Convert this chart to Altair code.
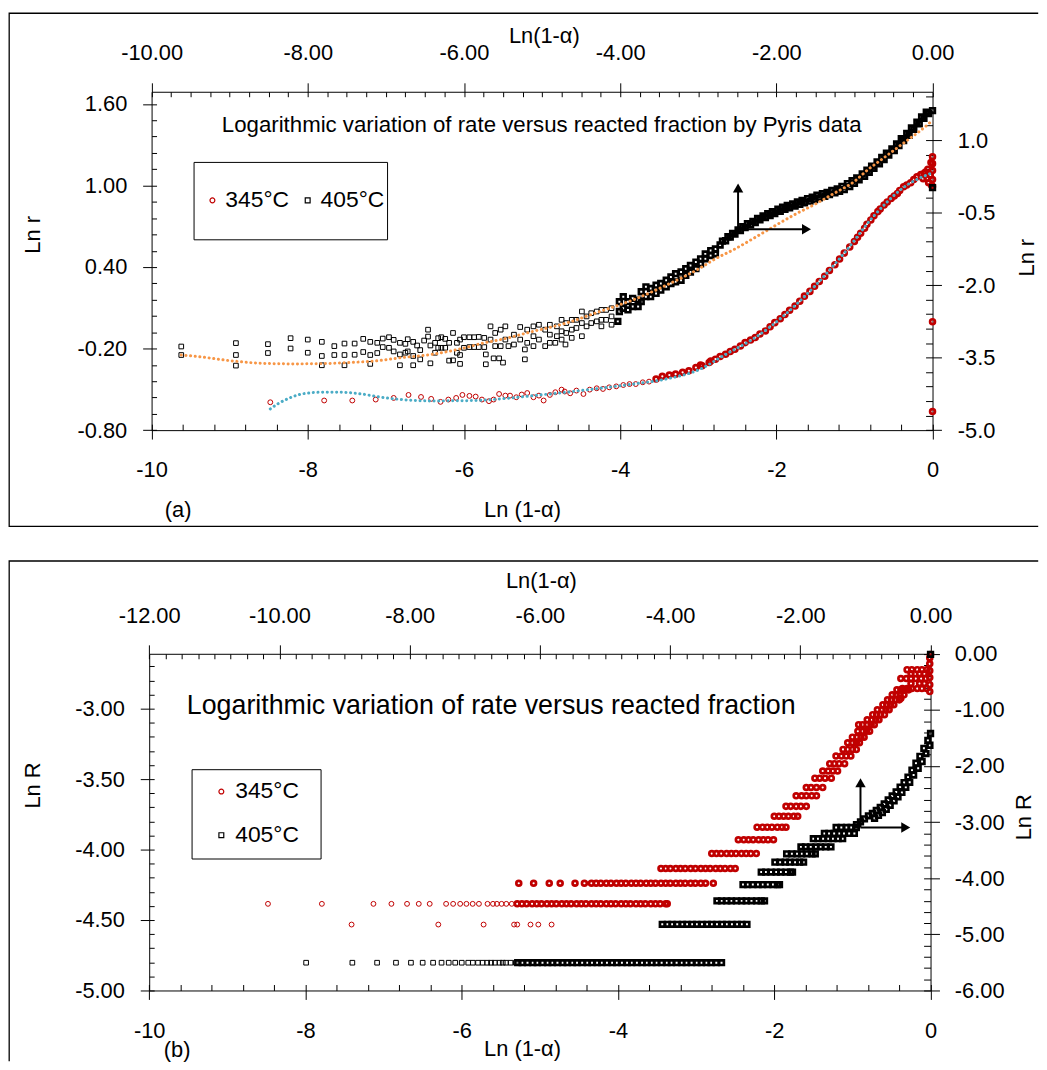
import altair as alt
import pandas as pd

FONT = "Liberation Sans"
MINUS = "\u2212"

series_names = ["345°C", "405°C"]
series_colors = ["#C00000", "#000000"]
series_shapes = ["circle", "square"]

# ---------------- tick values ----------------
a_bottom_major = [-10, -8, -6, -4, -2, 0]
a_top_major = [-10, -8, -6, -4, -2, 0]
a_left_major = [-0.8, -0.2, 0.4, 1.0, 1.6]
a_right_major = [-5.0, -3.5, -2.0, -0.5, 1.0]
b_bottom_major = [-10, -8, -6, -4, -2, 0]
b_top_major = [-12, -10, -8, -6, -4, -2, 0]
b_left_major = [-5.0, -4.5, -4.0, -3.5, -3.0]
b_right_major = [-6, -5, -4, -3, -2, -1, 0]


def minor(lo, hi, step):
    n = int(round((hi - lo) / step))
    return [round(lo + i * step, 4) for i in range(n + 1)]


a_bottom_minor = minor(-10, 0, 0.4)
a_top_minor = minor(-10, 0, 0.25)
a_left_minor = minor(-0.8, 1.6, 0.12)
a_right_minor = minor(-5, 1.9, 0.3)
b_bottom_minor = minor(-10, 0, 0.4)
b_top_minor = minor(-12, 0, 0.25)
b_left_minor = minor(-5, -2.6, 0.1)
b_right_minor = minor(-6, 0, 0.2)

# ---------------- panel (a) data ----------------
# 345°C : Ln(1-a) (bottom axis) vs Ln r (left axis)
red_a = [
    (-8.48, -0.595), (-7.79, -0.582), (-7.43, -0.582), (-7.13, -0.575), (-6.90, -0.563), (-6.71, -0.541),
    (-6.55, -0.556), (-6.42, -0.570), (-6.30, -0.592), (-6.20, -0.575), (-6.10, -0.563), (-6.02, -0.541),
    (-5.93, -0.548), (-5.85, -0.553), (-5.77, -0.575), (-5.68, -0.587), (-5.62, -0.575), (-5.55, -0.534),
    (-5.47, -0.546), (-5.41, -0.546), (-5.33, -0.558), (-5.26, -0.538), (-5.19, -0.527), (-5.11, -0.558),
    (-5.04, -0.546), (-4.98, -0.582), (-4.90, -0.541), (-4.83, -0.521), (-4.75, -0.502), (-4.71, -0.516),
    (-4.64, -0.529), (-4.56, -0.509), (-4.47, -0.534), (-4.39, -0.502), (-4.30, -0.492), (-4.22, -0.497),
    (-4.14, -0.485), (-4.05, -0.478), (-3.96, -0.468), (-3.88, -0.461), (-3.80, -0.461), (-3.71, -0.448),
    (-3.63, -0.443), (-3.54, -0.424), (-3.46, -0.404), (-3.37, -0.395), (-3.29, -0.388), (-3.20, -0.375),
    (-3.12, -0.363), (-3.03, -0.339), (-2.97, -0.320), (-2.95, -0.326), (-2.86, -0.302), (-2.84, -0.291),
    (-2.78, -0.278), (-2.72, -0.258), (-2.65, -0.241), (-2.59, -0.221), (-2.53, -0.205), (-2.46, -0.181),
    (-2.40, -0.156), (-2.33, -0.137), (-2.27, -0.119), (-2.21, -0.093), (-2.14, -0.070), (-2.08, -0.039),
    (-2.02, -0.009), (-1.95, 0.020), (-1.89, 0.051), (-1.83, 0.082), (-1.76, 0.113), (-1.70, 0.148),
    (-1.64, 0.186), (-1.57, 0.221), (-1.51, 0.259), (-1.45, 0.294), (-1.38, 0.332), (-1.32, 0.375),
    (-1.25, 0.417), (-1.19, 0.459), (-1.13, 0.503), (-1.06, 0.547), (-1.00, 0.588), (-0.96, 0.620),
    (-0.92, 0.649), (-0.87, 0.686), (-0.84, 0.715), (-0.79, 0.746), (-0.75, 0.777), (-0.70, 0.808),
    (-0.67, 0.828), (-0.62, 0.856), (-0.58, 0.879), (-0.53, 0.905), (-0.49, 0.923), (-0.45, 0.942),
    (-0.42, 0.964), (-0.37, 0.991), (-0.33, 1.004), (-0.28, 1.020), (-0.24, 1.044), (-0.20, 1.064),
    (-0.15, 1.081), (-0.11, 1.088), (-0.07, 1.051), (-0.03, 1.076), (-0.12, 1.05), (-0.09, 1.10),
    (-0.06, 1.12), (-0.05, 1.02), (-0.02, 1.17), (-0.01, 1.00), (0.0, 1.212), (0.0, 1.161),
    (0.0, 1.110), (0.0, 1.044), (0.0, 0.993), (0.0, -0.002), (0.0, -0.663),
]
blue_a = [
    (-8.48, -0.644), (-8.37, -0.602), (-8.24, -0.565), (-8.12, -0.540), (-7.99, -0.527), (-7.80, -0.521),
    (-7.59, -0.521), (-7.31, -0.534), (-7.06, -0.558), (-6.80, -0.575), (-6.42, -0.585), (-5.85, -0.582),
    (-5.53, -0.570), (-5.11, -0.546), (-4.69, -0.521), (-4.26, -0.492), (-3.84, -0.461), (-3.41, -0.424),
    (-2.99, -0.355), (-2.65, -0.243), (-2.27, -0.119), (-1.89, 0.049), (-1.51, 0.258), (-1.13, 0.503),
    (-0.75, 0.777), (-0.37, 0.986), (0.0, 1.095),
]
# 405°C : Ln(1-a) (top axis) vs Ln r (right axis)
black_a = [
    (-9.62, -3.270), (-9.62, -3.446), (-8.92, -3.200), (-8.92, -3.446), (-8.92, -3.665),
    (-8.51, -3.221), (-8.51, -3.405), (-8.22, -3.098), (-8.22, -3.311), (-8.00, -3.127), (-8.00, -3.399),
    (-7.82, -3.174), (-7.82, -3.466), (-7.82, -3.658), (-7.66, -3.262), (-7.66, -3.446),
    (-7.53, -3.209), (-7.53, -3.446), (-7.53, -3.658), (-7.40, -3.209), (-7.40, -3.440),
    (-7.29, -3.112), (-7.29, -3.384), (-7.20, -3.174), (-7.20, -3.446), (-7.20, -3.630),
    (-7.11, -3.194), (-7.11, -3.405), (-7.04, -3.106), (-7.04, -3.282), (-6.96, -3.078), (-6.96, -3.297),
    (-6.90, -3.133), (-6.90, -3.372), (-6.82, -3.194), (-6.82, -3.434), (-6.82, -3.658),
    (-6.75, -3.215), (-6.75, -3.399), (-6.72, -3.119), (-6.72, -3.372),
    (-6.65, -3.174), (-6.65, -3.466), (-6.65, -3.658), (-6.60, -3.249), (-6.56, -3.344), (-6.56, -3.536),
    (-6.51, -3.147), (-6.46, -2.922), (-6.46, -3.065), (-6.43, -3.249), (-6.43, -3.618),
    (-6.37, -3.194), (-6.37, -3.399), (-6.33, -3.098), (-6.33, -3.297), (-6.29, -3.078), (-6.29, -3.297),
    (-6.24, -3.112), (-6.24, -3.297), (-6.19, -3.194), (-6.19, -3.562), (-6.14, -2.990), (-6.14, -3.556),
    (-6.09, -3.194), (-6.09, -3.399), (-6.05, -3.127), (-6.05, -3.446), (-6.05, -3.630),
    (-6.00, -3.078), (-6.00, -3.297), (-5.93, -3.078), (-5.93, -3.282), (-5.87, -3.078), (-5.87, -3.282),
    (-5.81, -3.072), (-5.81, -3.282), (-5.74, -3.092), (-5.74, -3.282), (-5.72, -3.434), (-5.72, -3.638),
    (-5.66, -2.853), (-5.66, -3.127), (-5.62, -3.515), (-5.60, -2.990), (-5.60, -3.262), (-5.55, -3.515),
    (-5.53, -2.922), (-5.53, -3.262), (-5.50, -3.603), (-5.47, -2.853), (-5.47, -3.127), (-5.43, -3.262),
    (-5.36, -3.025), (-5.36, -3.229), (-5.28, -2.867), (-5.28, -3.127), (-5.22, -3.331), (-5.22, -3.536),
    (-5.19, -2.922), (-5.19, -3.194), (-5.11, -2.853), (-5.11, -3.057), (-5.11, -3.262),
    (-5.04, -2.820), (-5.04, -3.127), (-4.96, -2.922), (-4.96, -3.262),
    (-4.90, -2.820), (-4.90, -3.025), (-4.90, -3.194), (-4.83, -3.194), (-4.81, -2.853), (-4.81, -3.057),
    (-4.75, -2.718), (-4.75, -2.955), (-4.75, -3.127), (-4.70, -3.229), (-4.69, -2.785), (-4.69, -2.990),
    (-4.62, -2.718), (-4.62, -2.922), (-4.62, -3.092), (-4.56, -2.718), (-4.56, -2.887),
    (-4.49, -2.546), (-4.49, -2.785), (-4.49, -3.057), (-4.43, -2.648), (-4.43, -2.853),
    (-4.37, -2.581), (-4.37, -2.785), (-4.30, -2.546), (-4.30, -2.750),
    (-4.24, -2.513), (-4.24, -2.718), (-4.24, -2.853), (-4.18, -2.513), (-4.18, -2.718),
    (-4.11, -2.478), (-4.11, -2.648), (-4.11, -2.820), (-4.03, -2.750), (-4.01, -2.342), (-4.01, -2.546),
    (-3.96, -2.239), (-3.96, -2.478), (-3.90, -2.342), (-3.90, -2.513), (-3.84, -2.274), (-3.84, -2.444),
    (-3.77, -2.309), (-3.77, -2.444), (-3.73, -2.137), (-3.73, -2.342), (-3.67, -2.035), (-3.67, -2.239),
    (-3.61, -2.070), (-3.61, -2.239), (-3.54, -2.002), (-3.54, -2.172), (-3.48, -1.967), (-3.48, -2.104),
    (-3.41, -1.900), (-3.41, -2.035), (-3.35, -1.830), (-3.35, -1.967), (-3.29, -1.763), (-3.29, -1.933),
    (-3.22, -1.728), (-3.22, -1.900), (-3.16, -1.660), (-3.16, -1.798), (-3.10, -1.593), (-3.10, -1.728),
    (-3.03, -1.524), (-3.03, -1.660), (-2.97, -1.456), (-2.97, -1.558), (-2.91, -1.354), (-2.91, -1.456),
    (-2.84, -1.286), (-2.84, -1.389), (-2.78, -1.252), (-2.78, -1.354),
    (-2.72, -1.170), (-2.65, -1.082), (-2.59, -1.006), (-2.53, -0.945), (-2.46, -0.873), (-2.40, -0.808),
    (-2.33, -0.755), (-2.27, -0.706), (-2.21, -0.652), (-2.14, -0.603), (-2.08, -0.562), (-2.02, -0.521),
    (-1.95, -0.474), (-1.89, -0.434), (-1.83, -0.399), (-1.76, -0.366), (-1.70, -0.331), (-1.64, -0.296),
    (-1.57, -0.264), (-1.51, -0.229), (-1.45, -0.194), (-1.38, -0.161), (-1.32, -0.127), (-1.25, -0.092),
    (-1.19, -0.059), (-1.13, -0.024), (-1.06, 0.037), (-1.00, 0.108), (-0.94, 0.180), (-0.87, 0.252),
    (-0.81, 0.333), (-0.75, 0.415), (-0.68, 0.507), (-0.62, 0.599), (-0.56, 0.691), (-0.49, 0.783),
    (-0.43, 0.886), (-0.37, 0.988), (-0.30, 1.100), (-0.24, 1.223), (-0.17, 1.335), (-0.11, 1.448),
    (-0.05, 1.550), (0.0, 1.611), (0.0, 0.016),
    (-2.69, -1.09), (-2.62, -1.00), (-2.56, -0.93), (-2.49, -0.86), (-2.43, -0.79), (-2.37, -0.73),
    (-2.30, -0.68), (-2.24, -0.62), (-2.17, -0.57), (-2.11, -0.52), (-2.05, -0.48), (-1.98, -0.43),
    (-1.92, -0.39), (-1.86, -0.35), (-1.79, -0.32), (-1.73, -0.28), (-1.67, -0.25), (-1.60, -0.21),
    (-1.54, -0.18), (-1.48, -0.14), (-1.41, -0.11), (-1.35, -0.08), (-1.29, -0.04), (-1.22, -0.01),
    (-1.16, 0.04), (-1.09, 0.10), (-1.03, 0.16), (-0.97, 0.22), (-0.90, 0.30), (-0.84, 0.38),
    (-0.78, 0.46), (-0.71, 0.55), (-0.65, 0.64), (-0.59, 0.73), (-0.52, 0.82), (-0.46, 0.92),
    (-0.40, 1.03), (-0.33, 1.14), (-0.27, 1.25), (-0.20, 1.37), (-0.14, 1.48), (-0.08, 1.58),
]
orange_a = [
    (-9.62, -3.446), (-9.39, -3.481), (-8.96, -3.569), (-8.58, -3.618), (-8.20, -3.630), (-7.82, -3.624),
    (-7.48, -3.603), (-7.14, -3.569), (-6.80, -3.501), (-6.42, -3.434), (-6.04, -3.317), (-5.74, -3.194),
    (-5.53, -3.127), (-5.11, -2.955), (-4.69, -2.785), (-4.26, -2.546), (-3.84, -2.309), (-3.41, -2.002),
    (-2.99, -1.660), (-2.78, -1.456), (-2.53, -1.252), (-2.27, -1.012), (-2.02, -0.775), (-1.76, -0.536),
    (-1.51, -0.331), (-1.25, -0.092), (-1.00, 0.145), (-0.83, 0.385), (-0.66, 0.589), (-0.49, 0.794),
    (-0.32, 0.998), (-0.15, 1.202), (0.0, 1.407),
]
# arrows (a): origin and arrow-head positions on the 405°C axes
arrow_a_origin = (-2.49, -0.843)
arrow_a_up = (-2.49, 0.010)
arrow_a_right = (-1.614, -0.843)

# ---------------- panel (b) data ----------------
# 345°C : Ln(1-a) (bottom axis) vs Ln R (left axis); rows of equal Ln R
red_b_rows = [
    (-4.532, [-7.41, -6.30, -5.72, -5.33, -5.29, -5.12, -5.02, -4.85]),
    (-4.385, [-8.48, -7.79, -7.13, -6.90, -6.70, -6.55, -6.41, -6.20, -6.11, -6.02, -5.94, -5.86, -5.78,
              -5.67, -5.60, -5.55, -5.49, -5.43, -5.36, -5.29, -5.23, -5.17, -5.10, -5.04, -4.98, -4.91,
              -4.85, -4.79, -4.72, -4.66, -4.60, -4.53, -4.47, -4.41, -4.34, -4.28, -4.22, -4.15, -4.09,
              -4.03, -3.96, -3.90, -3.84, -3.77, -3.71, -3.65, -3.58, -3.52, -3.46, -3.39, -3.37]),
    (-4.239, [-5.27, -5.08, -4.88, -4.74, -4.55, -4.43, -4.34, -4.28, -4.22, -4.15, -4.09, -4.02, -3.96,
              -3.90, -3.83, -3.77, -3.71, -3.64, -3.58, -3.52, -3.45, -3.39, -3.33, -3.26, -3.20, -3.14,
              -3.07, -3.01, -2.94, -2.88, -2.78]),
    (-4.134, [-3.45, -3.39, -3.33, -3.26, -3.20, -3.14, -3.07, -3.01, -2.94, -2.88, -2.82, -2.75, -2.69,
              -2.63, -2.56, -2.50]),
    (-4.028, [-2.80, -2.74, -2.68, -2.61, -2.55, -2.49, -2.42, -2.36, -2.30, -2.23]),
    (-3.930, [-2.46, -2.39, -2.33, -2.27, -2.20, -2.14, -2.08, -2.01]),
    (-3.841, [-2.22, -2.15, -2.09, -2.03, -1.96, -1.90, -1.85]),
    (-3.763, [-2.00, -1.94, -1.88, -1.82, -1.75, -1.70]),
    (-3.693, [-1.85, -1.79, -1.72, -1.66, -1.59]),
    (-3.618, [-1.72, -1.65, -1.59, -1.52, -1.46]),
    (-3.559, [-1.59, -1.53, -1.46, -1.38]),
    (-3.493, [-1.48, -1.42, -1.35, -1.27]),
    (-3.442, [-1.38, -1.31, -1.25, -1.19]),
    (-3.390, [-1.29, -1.23, -1.17, -1.10]),
    (-3.336, [-1.21, -1.14, -1.08, -1.02]),
    (-3.289, [-1.12, -1.06, -1.00, -0.95]),
    (-3.242, [-1.06, -1.00, -0.95, -0.91]),
    (-3.202, [-1.00, -0.94, -0.89, -0.85]),
    (-3.160, [-0.93, -0.87, -0.82, -0.78]),
    (-3.113, [-0.92, -0.87, -0.81, -0.76, -0.72]),
    (-3.078, [-0.81, -0.75, -0.70, -0.66]),
    (-3.042, [-0.74, -0.69, -0.64, -0.59]),
    (-3.007, [-0.68, -0.62, -0.57, -0.53]),
    (-2.972, [-0.61, -0.56, -0.51, -0.47]),
    (-2.937, [-0.55, -0.50, -0.45, -0.40]),
    (-2.925, [-0.38]),
    (-2.901, [-0.49, -0.44, -0.39, -0.34]),
    (-2.866, [-0.43, -0.38, -0.33, -0.28]),
    (-2.857, [-0.36, -0.30, -0.24, -0.17, -0.11, -0.05]),
    (-2.821, [-0.25, -0.14, -0.08]),
    (-2.786, [-0.38, -0.31, -0.25, -0.19, -0.12, -0.06]),
    (-2.751, [-0.25, -0.14, -0.08]),
    (-2.723, [-0.30, -0.24, -0.17, -0.11, -0.05]),
]
red_b_extra = [(-0.01, -2.878), (-0.01, -2.829), (-0.01, -2.779), (-0.01, -2.730), (-0.01, -2.681),
               (-0.01, -2.639), (0.0, -2.615)]
# 405°C : Ln(1-a) (top axis) vs Ln R (right axis)
black_b_rows = [
    (-5.505, [-9.59, -8.88, -8.50, -8.21, -7.98, -7.80, -7.64, -7.51, -7.40, -7.30, -7.20, -7.10, -7.03,
              -6.95, -6.88, -6.81, -6.75, -6.69, -6.62, -6.57, -6.52, -6.45, -6.37, -6.34, -6.27, -6.19,
              -6.11, -6.04, -5.96, -5.88, -5.81, -5.73, -5.65, -5.58, -5.50, -5.43, -5.35, -5.27, -5.20,
              -5.12, -5.05, -4.97, -4.89, -4.82, -4.74, -4.66, -4.59, -4.51, -4.43, -4.36, -4.28, -4.21,
              -4.13, -4.05, -3.98, -3.90, -3.82, -3.75, -3.67, -3.59, -3.52, -3.44, -3.37, -3.29, -3.21]),
    (-4.821, [-4.12, -4.04, -3.97, -3.89, -3.81, -3.74, -3.66, -3.59, -3.51, -3.43, -3.36, -3.28, -3.20,
              -3.13, -3.05, -2.97, -2.90, -2.82]),
    (-4.403, [-3.28, -3.21, -3.13, -3.06, -2.98, -2.90, -2.83, -2.75, -2.67, -2.60, -2.55]),
    (-4.113, [-2.88, -2.81, -2.73, -2.65, -2.58, -2.50, -2.42, -2.35, -2.32]),
    (-3.890, [-2.60, -2.53, -2.45, -2.37, -2.30, -2.22, -2.15, -2.12]),
    (-3.714, [-2.39, -2.31, -2.23, -2.16, -2.08, -2.01, -1.95]),
    (-3.565, [-2.21, -2.13, -2.05, -1.98, -1.90, -1.82, -1.77]),
    (-3.441, [-1.99, -1.92, -1.84, -1.76, -1.69, -1.61, -1.53]),
    (-3.295, [-1.80, -1.73, -1.65, -1.57, -1.50, -1.42, -1.35]),
    (-3.201, [-1.63, -1.56, -1.48, -1.40, -1.33, -1.25, -1.17]),
    (-3.095, [-1.45, -1.37, -1.29, -1.22, -1.14]),
]
black_b_extra = [
    (-1.137, -3.047), (-1.076, -2.994), (-1.015, -2.941), (-0.954, -2.888), (-0.893, -2.844),
    (-0.833, -2.791), (-0.772, -2.737), (-0.711, -2.676), (-0.650, -2.605), (-0.589, -2.534),
    (-0.528, -2.463), (-0.467, -2.375), (-0.406, -2.295), (-0.346, -2.198), (-0.285, -2.074),
    (-0.224, -1.951), (-0.163, -1.827), (-0.102, -1.685), (-0.041, -1.544), (0.0, -1.420),
    (-0.86, -2.93), (-0.80, -2.88), (-0.74, -2.83), (-0.68, -2.77), (-0.62, -2.70), (-0.56, -2.62),
    (-0.50, -2.55), (-0.44, -2.47), (-0.38, -2.38), (-0.32, -2.29), (-0.26, -2.16), (-0.19, -2.04),
    (-0.13, -1.92), (-0.07, -1.78), (-0.01, -1.63), (0.0, -0.01),
]
arrow_b_origin = (-1.076, -3.095)
arrow_b_up = (-1.076, -2.299)
arrow_b_right = (-0.381, -3.095)


# ---------------- helpers ----------------
def pairs_df(pairs, series=None):
    d = pd.DataFrame({"x": [p[0] for p in pairs], "y": [p[1] for p in pairs]})
    if series is not None:
        d["series"] = series
    return d


def rows_df(rows, extra, series):
    xs, ys = [], []
    for lvl, row in rows:
        for v in row:
            xs.append(v)
            ys.append(lvl)
    for p in extra:
        xs.append(p[0])
        ys.append(p[1])
    return pd.DataFrame({"x": xs, "y": ys, "series": series})


def lab(fmt):
    return f"replace(format(datum.value, '{fmt}'), '{MINUS}', '-')"


def axis(orient, offset, values, fmt=None, title=None, tx=0, ty=0, angle=0, tick=9, pad=16,
         labels=True, domain=True, fs=22, tfs=22, align="center"):
    kw = dict(orient=orient, offset=offset, values=values, tickSize=tick, grid=False,
              tickColor="black", tickWidth=1, domain=domain, labels=labels)
    if domain:
        kw.update(domainColor="black", domainWidth=1)
    if labels:
        kw.update(labelExpr=lab(fmt), labelFont=FONT, labelFontSize=fs, labelColor="black",
                  labelPadding=pad, labelOverlap=False, labelFlush=False)
    if title is None:
        kw["title"] = None
    else:
        kw.update(title=title, titleX=tx, titleY=ty, titleAngle=angle, titleAlign=align,
                  titleBaseline="middle", titleFont=FONT, titleFontSize=tfs,
                  titleFontWeight="normal", titleColor="black")
    return alt.Axis(**kw)


def sc(dom, rng):
    return alt.Scale(domain=dom, range=rng, nice=False, zero=False)


def color_enc(legend):
    return alt.Color("series:N", scale=alt.Scale(domain=series_names, range=series_colors), legend=legend)


def shape_enc(legend):
    return alt.Shape("series:N", scale=alt.Scale(domain=series_names, range=series_shapes), legend=legend)


def arrow_layers(origin, up, right, xs, ys):
    rules = pd.DataFrame({"x": [origin[0], origin[0]], "y": [origin[1], origin[1]],
                          "x2": [up[0], right[0]], "y2": [up[1], right[1]]})
    r = alt.Chart(rules).mark_rule(color="black", strokeWidth=2).encode(
        x=alt.X("x:Q", scale=xs, axis=None), y=alt.Y("y:Q", scale=ys, axis=None),
        x2="x2:Q", y2="y2:Q")
    hu = alt.Chart(pairs_df([up])).mark_point(shape="triangle-up", filled=True, size=110,
                                              color="black", opacity=1).encode(
        x=alt.X("x:Q", scale=xs, axis=None), y=alt.Y("y:Q", scale=ys, axis=None))
    hr = alt.Chart(pairs_df([right])).mark_point(shape="triangle-right", filled=True, size=110,
                                                 color="black", opacity=1).encode(
        x=alt.X("x:Q", scale=xs, axis=None), y=alt.Y("y:Q", scale=ys, axis=None))
    return [r, hu, hr]


DOT = dict(strokeDash=[0.1, 4.6], strokeCap="round", strokeWidth=3)
NOAX = dict(axis=None)
DENSE_W = 2.7

# ---------------- panel (a) ----------------
W = 1037
HA, LA, RA, TA, BA = 517, 143.7, 930.7, 79.3, 420.3
xa = sc([-10, 0], [LA, RA])
xta = sc([-10, 0], [LA, RA])
yla = sc([-0.8, 1.69], [BA, TA])
yra = sc([-5, 2], [BA, TA])
oL, oR, oT, oB = -LA, -(W - RA), -TA, -(HA - BA)

leg_a = alt.Legend(orient="none", legendX=186, legendY=150, direction="horizontal", title=" ",
                   titleFontSize=17, titlePadding=8, titleFont=FONT,
                   strokeColor="black", fillColor="white", padding=2, labelFont=FONT,
                   labelFontSize=23, labelColor="black", labelOffset=1.5, columnPadding=1,
                   symbolOffset=5.5, symbolSize=24, symbolStrokeWidth=1.2,
                   labelExpr="[datum.label, '']")

df_red_a = pairs_df(red_a, "345°C")
df_black_a = pairs_df(black_a, "405°C")
dense_red_a = df_red_a[df_red_a.x >= -3.6]
dense_black_a = df_black_a[df_black_a.x >= -4.05]

a_red = alt.Chart(df_red_a).mark_point(filled=False, size=24, strokeWidth=1, opacity=1).encode(
    x=alt.X("x:Q", scale=xa, axis=axis("bottom", oB, a_bottom_major, "d", "Ln (1-α)", 517, 79.7, pad=21)),
    y=alt.Y("y:Q", scale=yla, axis=axis("left", oL, a_left_major, ".2f", "Ln r", -119.7, 223, angle=270)),
    color=color_enc(leg_a), shape=shape_enc(leg_a))
a_red_d = alt.Chart(dense_red_a).mark_point(filled=False, size=24, strokeWidth=DENSE_W, opacity=1,
                                            shape="circle", color="#C00000").encode(
    x=alt.X("x:Q", scale=xa, axis=axis("bottom", oB - 6, a_bottom_minor, tick=6, labels=False,
                                       domain=False, title="(a)", tx=170, ty=85.7)),
    y=alt.Y("y:Q", scale=yla, axis=axis("left", oL - 5, a_left_minor, tick=5, labels=False, domain=False)))
a_blue = alt.Chart(pairs_df(blue_a)).mark_line(color="#4BACC6", interpolate="monotone", **DOT).encode(
    x=alt.X("x:Q", scale=xa, **NOAX), y=alt.Y("y:Q", scale=yla, **NOAX))
a_black = alt.Chart(df_black_a).mark_point(filled=False, size=22, strokeWidth=1, opacity=1).encode(
    x=alt.X("x:Q", scale=xta, axis=axis("top", oT, a_top_major, ".2f", "Ln(1-α)", 539, -57, pad=18)),
    y=alt.Y("y:Q", scale=yra, axis=axis("right", oR, a_right_major, ".1f", "Ln r", 94.3, 246, angle=270)),
    color=color_enc(leg_a), shape=shape_enc(leg_a))
a_black_d = alt.Chart(dense_black_a).mark_point(filled=False, size=22, strokeWidth=DENSE_W, opacity=1,
                                                shape="square", color="black").encode(
    x=alt.X("x:Q", scale=xta, axis=axis("top", oT - 5, a_top_minor, tick=5, labels=False, domain=False,
                                        title="Logarithmic variation of rate versus reacted fraction by Pyris data",
                                        tx=214, ty=27.7, tfs=22.4, align="left")),
    y=alt.Y("y:Q", scale=yra, axis=axis("right", oR - 7, a_right_minor, tick=7, labels=False, domain=False)))
a_orange = alt.Chart(pairs_df(orange_a)).mark_line(color="#F79646", interpolate="monotone", **DOT).encode(
    x=alt.X("x:Q", scale=xta, **NOAX), y=alt.Y("y:Q", scale=yra, **NOAX))

# outer frame: left, top and bottom edges (the right edge lies beyond the picture)
panel_a = alt.layer(a_red, a_red_d, a_blue, a_black, a_black_d, a_orange,
                    *arrow_layers(arrow_a_origin, arrow_a_up, arrow_a_right, xta, yra)).resolve_scale(
    x="independent", y="independent").properties(
    width=W, height=HA,
    view=alt.ViewBackground(stroke="black", strokeWidth=1.3, fill="white",
                            strokeDash=[W, HA, W + HA + 20]))

# ---------------- panel (b) ----------------
HB, LB, RB, TB, BB = 504, 141.3, 928.7, 93.7, 433
xb = sc([-10, 0], [LB, RB])
xtb = sc([-12, 0], [LB, RB])
ylb = sc([-5, -2.61], [BB, TB])
yrb = sc([-6, 0], [BB, TB])
pL, pR, pT, pB = -LB, -(W - RB), -TB, -(HB - BB)

leg_b = alt.Legend(orient="none", legendX=184, legendY=210, direction="vertical", title=" ",
                   titleOrient="right", titleFontSize=10, titlePadding=11, titleFont=FONT,
                   strokeColor="black", fillColor="white", padding=11, labelFont=FONT,
                   labelFontSize=23, labelColor="black", labelOffset=2.5, rowPadding=20,
                   symbolOffset=7.5, symbolSize=24, symbolStrokeWidth=1.2)

df_red_b = rows_df(red_b_rows, red_b_extra, "345°C")
df_black_b = rows_df(black_b_rows, black_b_extra, "405°C")
dense_red_b = df_red_b[(df_red_b.x >= -5.30) & (df_red_b.y >= -4.40)]
dense_black_b = df_black_b[df_black_b.x >= -6.35]

b_red = alt.Chart(df_red_b).mark_point(filled=False, size=24, strokeWidth=1, opacity=1).encode(
    x=alt.X("x:Q", scale=xb, axis=axis("bottom", pB, b_bottom_major, "d", "Ln (1-α)", 517, 59, pad=21)),
    y=alt.Y("y:Q", scale=ylb, axis=axis("left", pL, b_left_major, ".2f", "Ln R", -117.3, 226, angle=270)),
    color=color_enc(leg_b), shape=shape_enc(leg_b))
b_red_d = alt.Chart(dense_red_b).mark_point(filled=False, size=24, strokeWidth=DENSE_W, opacity=1,
                                            shape="circle", color="#C00000").encode(
    x=alt.X("x:Q", scale=xb, axis=axis("bottom", pB - 6, b_bottom_minor, tick=6, labels=False,
                                       domain=False, title="(b)", tx=169, ty=66)),
    y=alt.Y("y:Q", scale=ylb, axis=axis("left", pL - 5, b_left_minor, tick=5, labels=False, domain=False)))
b_black = alt.Chart(df_black_b).mark_point(filled=False, size=22, strokeWidth=1, opacity=1).encode(
    x=alt.X("x:Q", scale=xtb, axis=axis("top", pT, b_top_major, ".2f", "Ln(1-α)", 536, -73.7, pad=18)),
    y=alt.Y("y:Q", scale=yrb, axis=axis("right", pR, b_right_major, ".2f", "Ln R", 93.3, 258, angle=270, pad=15)),
    color=color_enc(leg_b), shape=shape_enc(leg_b))
b_black_d = alt.Chart(dense_black_b).mark_point(filled=False, size=22, strokeWidth=DENSE_W, opacity=1,
                                                shape="square", color="black").encode(
    x=alt.X("x:Q", scale=xtb, axis=axis("top", pT - 5, b_top_minor, tick=5, labels=False, domain=False,
                                        title="Logarithmic variation of rate versus reacted fraction",
                                        tx=178.7, ty=47.3, tfs=27, align="left")),
    y=alt.Y("y:Q", scale=yrb, axis=axis("right", pR - 7, b_right_minor, tick=7, labels=False, domain=False)))

# outer frame: left and top edges only (the rest lies beyond the picture)
panel_b = alt.layer(b_red, b_red_d, b_black, b_black_d,
                    *arrow_layers(arrow_b_origin, arrow_b_up, arrow_b_right, xtb, yrb)).resolve_scale(
    x="independent", y="independent").properties(
    width=W, height=HB,
    view=alt.ViewBackground(stroke="black", strokeWidth=1.3, fill="white",
                            strokeDash=[W, HB + W, HB + 20]))

chart = alt.vconcat(panel_a, panel_b, spacing=33).resolve_scale(
    color="independent", shape="independent").resolve_legend(
    color="independent", shape="independent").properties(padding=0, background="white")

chart.save("out.html", embed_options={"renderer": "svg", "actions": False})
